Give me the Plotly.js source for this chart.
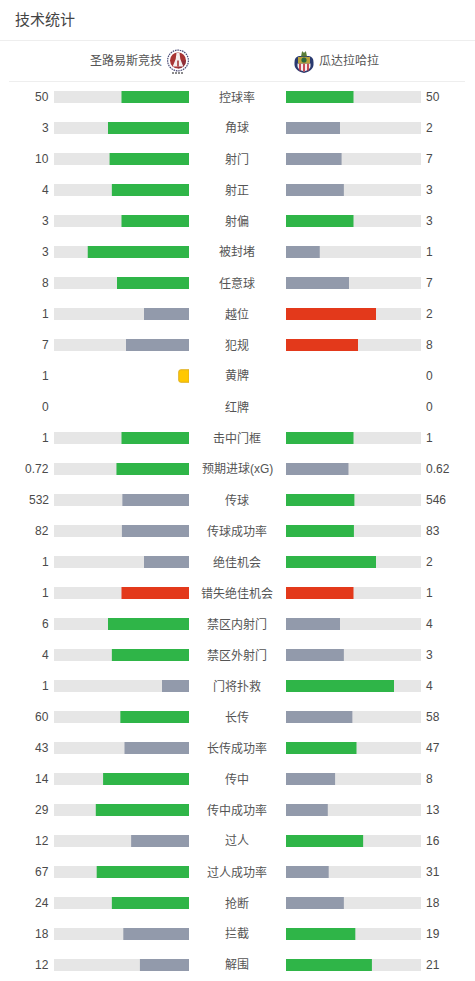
<!DOCTYPE html>
<html><head><meta charset="utf-8">
<script src="https://cdn.plot.ly/plotly-3.0.1.min.js"></script>
<style>html,body{margin:0;padding:0;background:#fff}#c{width:475px;height:981px}</style></head>
<body><div id="c"></div>
<script>
const categories=["控球率","角球","射门","射正","射偏","被封堵","任意球","越位","犯规","黄牌","红牌","击中门框","预期进球(xG)","传球","传球成功率","绝佳机会","错失绝佳机会","禁区内射门","禁区外射门","门将扑救","长传","长传成功率","传中","传中成功率","过人","过人成功率","抢断","拦截","解围"];
const homeValues=[50,3,10,4,3,3,8,1,7,1,0,1,0.72,532,82,1,1,6,4,1,60,43,14,29,12,67,24,18,12];
const awayValues=[50,2,7,3,3,1,7,2,8,0,0,1,0.62,546,83,2,1,4,3,4,58,47,8,13,16,31,18,19,21];
const homeTone=["g","g","g","g","g","g","g","n","n","y","","g","g","n","n","n","r","g","g","n","g","n","g","g","n","g","g","n","n"];
const awayTone=["g","n","n","n","g","n","n","r","r","","","g","n","g","g","g","r","n","n","g","n","g","n","n","g","n","n","g","g"];
const homeTeam="圣路易斯竞技", awayTeam="瓜达拉哈拉", panelTitle="技术统计";
const palette={g:"#2fb548",n:"#929aab",r:"#e3391b",y:"#ffc800"};
const trackColor="#e6e6e6";
const W=475,H=981,rowStep=31,firstRow=97,barPx=12;
const FONT='"Liberation Sans","Noto Sans CJK SC",sans-serif';
const rows=categories.map((_,i)=>i);
const shares=rows.map(i=>{const t=homeValues[i]+awayValues[i];return t?homeValues[i]/t*100:0;});
const hasTrack=rows.map(i=>homeTone[i]!==""&&homeTone[i]!=="y");
const cardRow=rows.filter(i=>homeTone[i]==="y");
const barW=barPx/rowStep;
function bar(axis,xs,ys,colors,extra){return Object.assign({type:"bar",orientation:"h",xaxis:axis,yaxis:"y",x:xs,y:ys,width:barW,marker:{color:colors,line:{width:0}},hoverinfo:"skip",showlegend:false},extra||{});}
const trackRows=rows.filter(i=>hasTrack[i]);
const traces=[
 bar("x",trackRows.map(()=>100),trackRows,trackColor),
 bar("x2",trackRows.map(()=>100),trackRows,trackColor),
 bar("x",trackRows.map(i=>shares[i]),trackRows,trackRows.map(i=>palette[homeTone[i]])),
 bar("x2",trackRows.map(i=>100-shares[i]),trackRows,trackRows.map(i=>palette[awayTone[i]])),
 bar("x",cardRow.map(()=>7.6),cardRow,palette.y,{width:12.5/rowStep,marker:{color:palette.y,line:{width:1,color:"#dfae1e"},cornerradius:2}})
];
const ann=[];
function txt(text,x,y,anchor,yref,size,color,yshift){ann.push({text:text,x:x,y:y,xref:"paper",yref:yref,xanchor:anchor,yanchor:"middle",showarrow:false,align:anchor,borderpad:0,yshift:yshift||0,font:{family:FONT,size:size,color:color}});}
rows.forEach(i=>{
 txt(String(homeValues[i]),49.8/W,i,"right","y",12,"#4a4a4a");
 txt(String(awayValues[i]),424.8/W,i,"left","y",12,"#4a4a4a");
 txt(categories[i],237/W,i,"center","y",12,"#555",-0.4);
});
txt(panelTitle,13.5/W,1-20/H,"left","paper",15,"#444");
txt(homeTeam,162.5/W,1-61/H,"right","paper",12,"#555");
txt(awayTeam,317.5/W,1-61/H,"left","paper",12,"#555");
const homeLogo='<svg xmlns="http://www.w3.org/2000/svg" viewBox="0 0 24 26"><circle cx="12" cy="12" r="10.4" fill="#fff" stroke="#4a4c78" stroke-width="1.2" stroke-dasharray="1.6 .8"/><circle cx="12" cy="12" r="8" fill="#a83534"/><path d="M12 12h8a8 8 0 0 1-8 8z" fill="#8e2f3a"/><path d="M10.5 4.5h3l.8 6 3 7.5H6.7l3-7.500z" fill="#f5eeee"/><path d="M11.200 12h1.600v6h-1.600z" fill="#a83534"/><path d="M6 24.500h12" stroke="#666" stroke-width="1.500" stroke-dasharray="2 1"/></svg>';
const awayLogo='<svg xmlns="http://www.w3.org/2000/svg" viewBox="0 0 20 24"><path d="M.5 13C.5 9 2 7 5 6.500h10c3 .5 4.500 2.500 4.500 6.500v2c0 5-5 7.500-9.500 8.500C5.500 22.500.5 20 .5 15z" fill="#2a3a70"/><path d="M3.500 14h13v2.500c0 3-3.500 4.500-6.500 5.500-3-1-6.500-2.500-6.500-5.500z" fill="#f4eeee"/><path d="M6 14v7M10 14v8M14 14v7" stroke="#c23a45" stroke-width="1.800"/><path d="M4 7.500h12V14H4z" fill="#b9a23c"/><circle cx="10" cy="10.500" r="2.600" fill="#2c6a3e"/><path d="M7 7l1-5h.8l1.200 1.500L11.200 2h.8l1 5z" fill="#5a7d38"/></svg>';
const uri=s=>"data:image/svg+xml;charset=utf-8,"+encodeURIComponent(s);
const images=[
 {source:uri(homeLogo),xref:"paper",yref:"paper",x:166/W,y:1-48.5/H,sizex:24/W,sizey:26/H,xanchor:"left",yanchor:"top",sizing:"stretch",layer:"above"},
 {source:uri(awayLogo),xref:"paper",yref:"paper",x:294/W,y:1-49.5/H,sizex:20/W,sizey:24/H,xanchor:"left",yanchor:"top",sizing:"stretch",layer:"above"}
];
const shapes=[
 {type:"line",xref:"paper",yref:"paper",x0:0,x1:1,y0:1-40.5/H,y1:1-40.5/H,line:{color:"#eeeeee",width:1}},
 {type:"line",xref:"paper",yref:"paper",x0:9/W,x1:465/W,y0:1-81.5/H,y1:1-81.5/H,line:{color:"#eeeeee",width:1}}
];
const hidden={showgrid:false,zeroline:false,showticklabels:false,ticks:"",showline:false,fixedrange:true};
const layout={width:W,height:H,margin:{l:0,r:0,t:0,b:0,pad:0},paper_bgcolor:"#fff",plot_bgcolor:"#fff",barmode:"overlay",showlegend:false,
 xaxis:Object.assign({},hidden,{domain:[54/W,189/W],range:[100,0],anchor:"y"}),
 xaxis2:Object.assign({},hidden,{domain:[286/W,421/W],range:[0,100],anchor:"y"}),
 yaxis:Object.assign({},hidden,{domain:[0,1],range:[(H-firstRow)/rowStep,-firstRow/rowStep],anchor:"x"}),
 annotations:ann,images:images,shapes:shapes};
Plotly.newPlot("c",traces,layout,{staticPlot:true,displayModeBar:false});
</script></body></html>
